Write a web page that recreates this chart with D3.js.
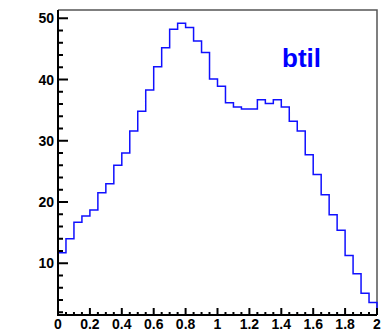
<!DOCTYPE html>
<html>
<head>
<meta charset="utf-8">
<script src="https://cdn.jsdelivr.net/npm/d3@7"></script>
<style>
  body { margin: 0; background: #fff; }
  text { font-family: "Liberation Sans", Arial, sans-serif; font-weight: bold; }
</style>
</head>
<body>
<script>
// histogram "btil": 40 bins between 0 and 2
var binLo = 0, binHi = 2;
var counts = [11.7, 14.0, 16.7, 17.7, 18.7, 21.5, 23.0, 26.0, 28.0, 31.6,
              34.8, 38.3, 42.1, 45.2, 48.2, 49.2, 48.5, 46.3, 44.4, 40.1,
              38.9, 36.2, 35.5, 35.2, 35.2, 36.7, 36.1, 36.7, 35.5, 33.2,
              31.6, 27.7, 24.5, 21.2, 17.9, 15.4, 11.25, 8.3, 5.1, 3.6];
var xTickLabels = ["0", "0.2", "0.4", "0.6", "0.8", "1", "1.2", "1.4", "1.6", "1.8", "2"];
var yTickValues = [10, 20, 30, 40, 50];
var title = "btil";

var width = 382, height = 331;
var margin = {top: 10, right: 5, bottom: 16, left: 58};

var svg = d3.select("body").append("svg")
  .attr("width", width)
  .attr("height", height);

var x = d3.scaleLinear().domain([binLo, binHi]).range([margin.left, width - margin.right]);
var y = d3.scaleLinear().domain([1.55, 51.35]).range([height - margin.bottom, margin.top]);

var bw = (binHi - binLo) / counts.length;

// frame top / right (grey)
svg.append("path")
  .attr("d", "M" + x(binLo) + "," + y.range()[1] + "H" + x(binHi) + "V" + y.range()[0])
  .attr("fill", "none")
  .attr("stroke", "#555")
  .attr("stroke-width", 1.5);

// step line
var pts = [];
counts.forEach(function(c, i) {
  pts.push([x(binLo + i * bw), y(c)]);
  pts.push([x(binLo + (i + 1) * bw), y(c)]);
});
svg.append("path")
  .attr("d", "M" + x(binLo) + "," + y.range()[0] + "L" + pts.map(function(p){ return p.join(","); }).join("L") + "L" + x(binHi) + "," + y.range()[0])
  .attr("fill", "none")
  .attr("stroke", "#1010ff")
  .attr("stroke-width", 1.5);

// y axis
var yMinor = d3.range(2, 52, 2).filter(function(v){ return v % 10 != 0 && v >= y.domain()[0] && v <= y.domain()[1]; });
var yAxis = svg.append("g").attr("transform", "translate(" + margin.left + ",0)");
yAxis.append("line")
  .attr("x1", 0).attr("x2", 0)
  .attr("y1", y.range()[0] + 1).attr("y2", y.range()[1])
  .attr("stroke", "#000").attr("stroke-width", 2);
yAxis.selectAll(".ymaj").data(yTickValues).enter().append("line")
  .attr("x1", 0).attr("x2", 10)
  .attr("y1", function(d){ return y(d); }).attr("y2", function(d){ return y(d); })
  .attr("stroke", "#000").attr("stroke-width", 2);
yAxis.selectAll(".ymin").data(yMinor).enter().append("line")
  .attr("x1", 0).attr("x2", 5)
  .attr("y1", function(d){ return y(d); }).attr("y2", function(d){ return y(d); })
  .attr("stroke", "#000").attr("stroke-width", 2);
yAxis.selectAll("text").data(yTickValues).enter().append("text")
  .attr("x", -4)
  .attr("y", function(d){ return y(d) + 5; })
  .attr("text-anchor", "end")
  .attr("font-size", 14)
  .text(function(d){ return d; });

// x axis
var xMinor = d3.range(0, 41).map(function(i){ return i * 0.05; }).filter(function(v, i){ return i % 4 != 0; });
var xAxis = svg.append("g").attr("transform", "translate(0," + y.range()[0] + ")");
xAxis.append("line")
  .attr("x1", margin.left - 1).attr("x2", x(binHi))
  .attr("y1", 0).attr("y2", 0)
  .attr("stroke", "#000").attr("stroke-width", 2);
xAxis.selectAll(".xmaj").data(xTickLabels).enter().append("line")
  .attr("x1", function(d){ return x(+d); }).attr("x2", function(d){ return x(+d); })
  .attr("y1", 0).attr("y2", -7)
  .attr("stroke", "#000").attr("stroke-width", 2);
xAxis.selectAll(".xmin").data(xMinor).enter().append("line")
  .attr("x1", function(d){ return x(d); }).attr("x2", function(d){ return x(d); })
  .attr("y1", 0).attr("y2", -3)
  .attr("stroke", "#000").attr("stroke-width", 2);
xAxis.selectAll("text").data(xTickLabels).enter().append("text")
  .attr("x", function(d){ return x(+d); })
  .attr("y", 14)
  .attr("text-anchor", "middle")
  .attr("font-size", 14)
  .text(function(d){ return d; });

// title
svg.append("text")
  .attr("x", 282)
  .attr("y", 67)
  .attr("fill", "#0000ff")
  .attr("font-size", 26)
  .text(title);
</script>
</body>
</html>
